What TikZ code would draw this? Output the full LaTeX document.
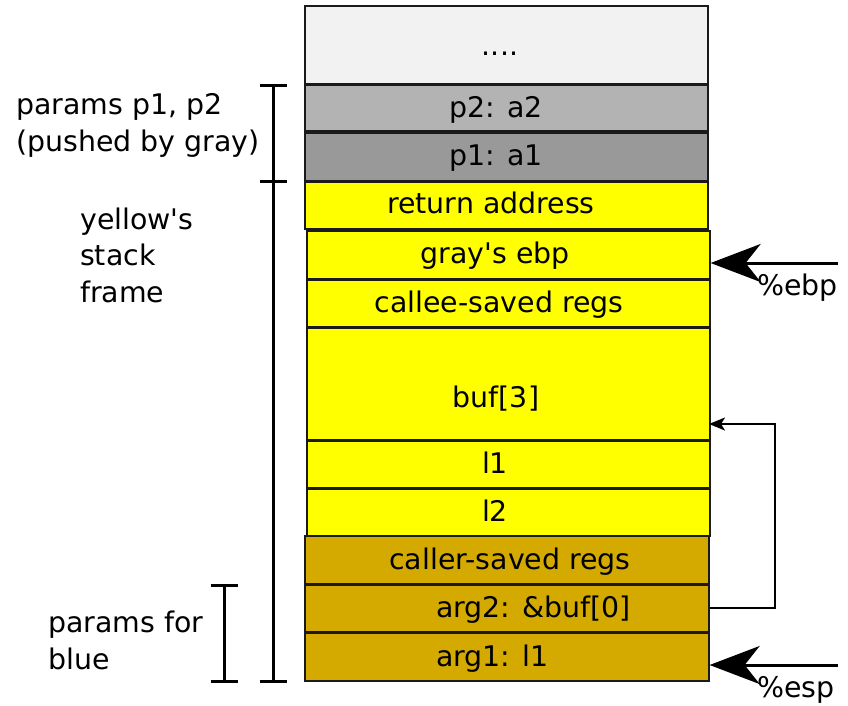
\documentclass[tikz,border=0pt]{standalone}
\usepackage{fontspec}
\setmainfont{DejaVu Sans}
\usetikzlibrary{arrows.meta}
\definecolor{topgray}{HTML}{F2F2F2}
\definecolor{pgray}{HTML}{B3B3B3}
\definecolor{pdark}{HTML}{999999}
\definecolor{frameyellow}{HTML}{FFFF00}
\definecolor{framegold}{HTML}{D4AA00}
\definecolor{edge}{HTML}{1A1A1A}
\tikzset{
  slot/.style={draw=edge, line width=1.6pt, inner sep=0pt, anchor=north west},
  slottext/.style={anchor=base, inner sep=0pt},
  sidetext/.style={anchor=base west, align=left, inner sep=0pt},
  brace/.style={line width=3pt},
  regptr/.style={line width=3pt, -{Stealth[length=50pt, width=38pt, inset=15pt]}},
  link/.style={line width=2pt, -{Stealth[length=16pt, width=13pt, inset=4pt]}}
}
\newcommand{\slotbox}[6]{% name, colour, left, top, right, bottom
  \node[slot, fill=#2, minimum width={#5-#3}, minimum height={#6-#4}] (#1) at (#3,#4) {};}
\begin{document}
\begin{tikzpicture}[x=1pt, y=-1pt, font=\fontsize{28.4}{36.5}\selectfont]
\useasboundingbox (0,0) rectangle (848,705);

% stack slots, top to bottom
\slotbox{dots}{topgray}{304}{5}{707}{83}
\slotbox{ptwo}{pgray}{304}{84}{707}{130}
\slotbox{pone}{pdark}{304}{132}{707}{180}
\slotbox{ret}{frameyellow}{304}{181}{707}{228}
\slotbox{gebp}{frameyellow}{306}{230}{709}{278}
\slotbox{callee}{frameyellow}{306}{279}{709}{326}
\slotbox{buf}{frameyellow}{306}{327}{709}{439}
\slotbox{lone}{frameyellow}{306}{440}{709}{487}
\slotbox{ltwo}{frameyellow}{306}{488}{709}{535}
\slotbox{caller}{framegold}{304}{535}{708}{583}
\slotbox{argtwo}{framegold}{304}{584}{708}{631}
\slotbox{argone}{framegold}{304}{632}{708}{680}

% slot contents
\node[slottext] (tdots) at (500,55) {....};
\node[slottext] (tptwo) at (496,117) {p2: a2};
\node[slottext] (tpone) at (496,165) {p1: a1};
\node[slottext] (tret) at (491,213) {return address};
\node[slottext] (tgebp) at (495,263) {gray\textquotesingle s ebp};
\node[slottext] (tcallee) at (499,312) {callee-saved regs};
\node[slottext] (tbuf) at (496,407) {buf[3]};
\node[slottext] (tlone) at (495,473) {l1};
\node[slottext] (tltwo) at (495,521) {l2};
\node[slottext] (tcaller) at (510,569) {caller-saved regs};
\node[slottext, anchor=base west] (targtwo) at (436,617) {arg2: \&buf[0]};
\node[slottext, anchor=base west] (targone) at (436,666) {arg1: l1};

% side labels (anchored at the baseline of their last line)
\node[sidetext] (lparams) at (16,151) {params p1, p2\\(pushed by gray)};
\node[sidetext] (lframe) at (80,302) {yellow\textquotesingle s\\stack\\frame};
\node[sidetext] (lblue) at (48,669) {params for\\blue};

% extent brackets
\coordinate (ba) at (273,85);
\coordinate (bb) at (273,181);
\coordinate (bc) at (273,681);
\draw[brace] (ba) -- (bc);
\foreach \p in {ba,bb,bc} \draw[brace] ([xshift=-13.5pt]\p) -- ([xshift=13.5pt]\p);
\coordinate (sa) at (224,585);
\coordinate (sb) at (224,681);
\draw[brace] (sa) -- (sb);
\foreach \p in {sa,sb} \draw[brace] ([xshift=-13.5pt]\p) -- ([xshift=13.5pt]\p);

% register pointers
\coordinate (ebpfrom) at (838,263);
\coordinate (espfrom) at (838,665);
\draw[regptr] (ebpfrom) -- (gebp.east |- ebpfrom);
\draw[regptr] (espfrom) -- (argone.east |- espfrom);
\node[anchor=base west, inner sep=0pt] (lebp) at (757,295) {\%ebp};
\node[anchor=base west, inner sep=0pt] (lesp) at (757,697) {\%esp};

% pointer from arg2 into buf
\coordinate (bufin) at (709,424);
\draw[link] (argtwo.east) -- ++(65,0) |- (bufin);
\end{tikzpicture}
\end{document}
